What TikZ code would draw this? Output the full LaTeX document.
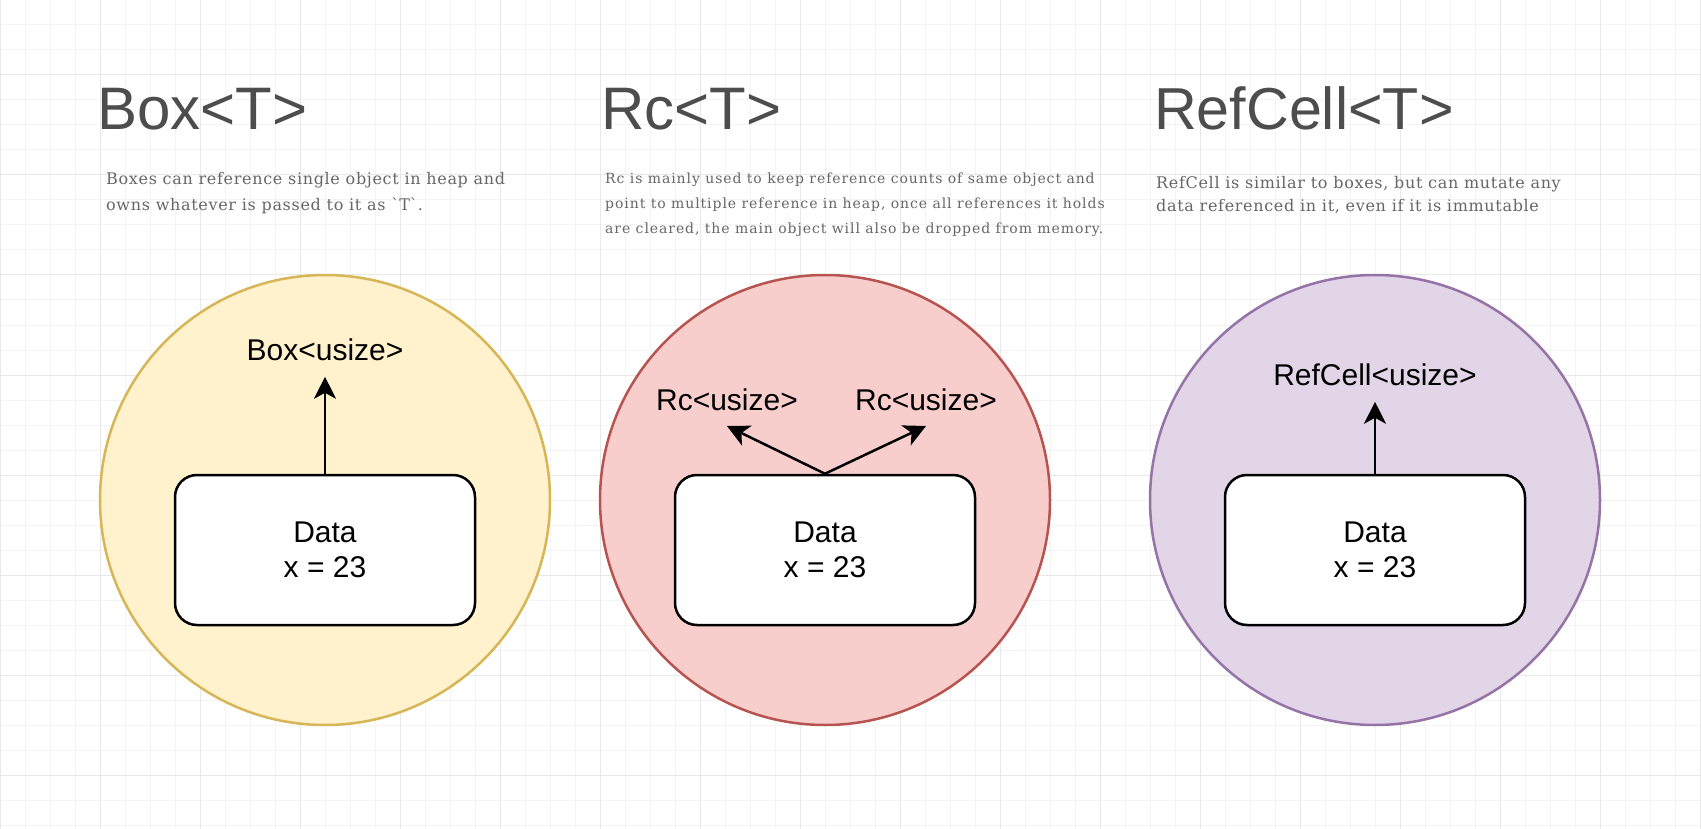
\documentclass[tikz,border=0pt]{standalone}
\usepackage{fontspec}
\setmainfont{Liberation Sans}
\newfontfamily\descfontA{DejaVu Serif}[LetterSpace=4.2]
\newfontfamily\descfontB{DejaVu Serif}[LetterSpace=6.6]
\usetikzlibrary{arrows.meta}
\definecolor{gridmajor}{HTML}{E8E8E8}
\definecolor{gridminor}{HTML}{F4F4F4}
\definecolor{titlegray}{HTML}{4D4D4D}
\definecolor{descgray}{HTML}{666666}
\definecolor{yelfill}{HTML}{FFF2CC}
\definecolor{yelline}{HTML}{D6B656}
\definecolor{redfill}{HTML}{F8CECC}
\definecolor{redline}{HTML}{B85450}
\definecolor{purfill}{HTML}{E1D5E7}
\definecolor{purline}{HTML}{9673A6}
\newcommand{\bq}{{\XeTeXglyph\XeTeXcharglyph"60\relax}}
\tikzset{
  minorline/.style={draw=gridminor, line width=1pt},
  majorline/.style={draw=gridmajor, line width=1pt},
  titletext/.style={anchor=base west, inner sep=0pt, text=titlegray, font=\fontsize{60}{72}\selectfont},
  desctext/.style={anchor=base west, inner sep=0pt, text=descgray, align=left},
  bubble/.style={circle, inner sep=0pt, minimum size=450pt, line width=2.5pt},
  databox/.style={draw=black, fill=white, line width=2.5pt, rounded corners=22pt,
    minimum width=300pt, minimum height=150pt, inner sep=0pt, align=center,
    font=\fontsize{30}{35}\selectfont},
  reflabel/.style={anchor=base, inner sep=0pt, font=\fontsize{30}{36}\selectfont},
  arr/.style={draw=black, line width=2.5pt, -{Stealth[length=22pt, width=22pt, inset=6pt]}}
}
\begin{document}
\begin{tikzpicture}[x=1pt, y=-1pt]
\useasboundingbox (0,0) rectangle (1701,829);
\fill[white] (0,0) rectangle (1701,829);
% grid
\foreach \x in {0,25,...,1700} \draw[minorline] (\x,0) -- (\x,829);
\foreach \y in {0,25,...,825} \draw[minorline] (0,\y) -- (1701,\y);
\foreach \x in {0,100,...,1700} \draw[majorline] (\x,0) -- (\x,829);
\foreach \y in {75,175,...,775} \draw[majorline] (0,\y) -- (1701,\y);

% titles
\node[titletext] (t1) at (97,130) {Box<T>};
\node[titletext] (t2) at (601,130) {Rc<T>};
\node[titletext, font=\fontsize{59.2}{72}\selectfont] (t3) at (1154,130) {RefCell<T>};

% descriptions (anchor = baseline of last line)
\node[desctext, font=\descfontA\fontsize{16}{26}\selectfont] (s1) at (106,211)
  {Boxes can reference single object in heap and\\owns whatever is passed to it as \bq T\bq .};
\node[desctext, font=\descfontB\fontsize{14}{25}\selectfont] (s2) at (605,234)
  {Rc is mainly used to keep reference counts of same object and\\point to multiple reference in heap, once all references it holds\\are cleared, the main object will also be dropped from memory.};
\node[desctext, font=\descfontA\fontsize{16}{23.5}\selectfont] (s3) at (1156,212)
  {RefCell is similar to boxes, but can mutate any\\data referenced in it, even if it is immutable};

% circles
\node[bubble, draw=yelline, fill=yelfill] (c1) at (325,500) {};
\node[bubble, draw=redline, fill=redfill] (c2) at (825,500) {};
\node[bubble, draw=purline, fill=purfill] (c3) at (1375,500) {};

% data boxes
\node[databox] (d1) at (325,550) {Data\\x = 23};
\node[databox] (d2) at (825,550) {Data\\x = 23};
\node[databox] (d3) at (1375,550) {Data\\x = 23};

% labels
\node[reflabel, outer sep=16.5pt] (l1) at (325,360) {Box<usize>};
\node[reflabel, outer sep=15.7pt] (l2a) at (727,410) {Rc<usize>};
\node[reflabel, outer sep=15.7pt] (l2b) at (926,410) {Rc<usize>};
\node[reflabel, outer sep=16.5pt] (l3) at (1375,385) {RefCell<usize>};

% arrows
\draw[arr] (d1.north) -- (l1.south);
\draw[arr] (d2.north) -- (l2a.south);
\draw[arr] (d2.north) -- (l2b.south);
\draw[arr] (d3.north) -- (l3.south);
\end{tikzpicture}
\end{document}
